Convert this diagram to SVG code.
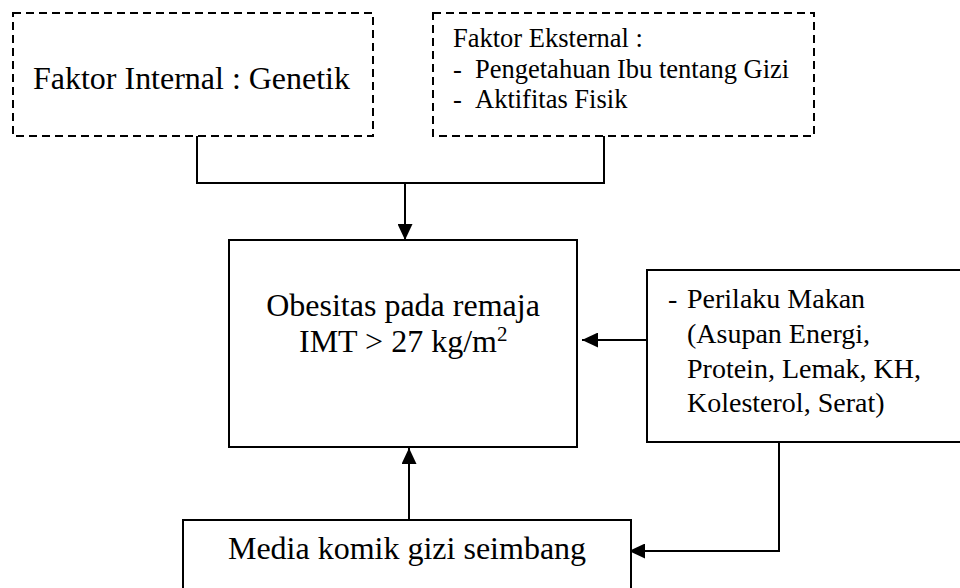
<svg xmlns="http://www.w3.org/2000/svg" width="960" height="588" viewBox="0 0 960 588">
<style>
.box{fill:#fff;stroke:#000;stroke-width:2}
.dash{fill:#fff;stroke:#000;stroke-width:2;stroke-dasharray:8,5}
.t{font-family:"Liberation Serif","Times New Roman",serif;fill:#000}
.conn{fill:none;stroke:#000;stroke-width:2}
</style>
<defs>
<marker id="arr" markerUnits="userSpaceOnUse" markerWidth="16" markerHeight="15" refX="16" refY="7.5" orient="auto">
<path d="M0,0 L16,7.5 L0,15 z" fill="#000"/>
</marker>
</defs>
<g id="connectors">
<path class="conn" d="M197,136 V183 H604 V136"/>
<path class="conn" d="M405,183 V240" marker-end="url(#arr)"/>
<path class="conn" d="M647,340 H582" marker-end="url(#arr)"/>
<path class="conn" d="M779,442 V551 H629" marker-end="url(#arr)"/>
<path class="conn" d="M409,520 V448" marker-end="url(#arr)"/>
</g>
<g id="internal">
<rect class="dash" x="13" y="13" width="360" height="123"/>
<text class="t" x="33" y="89" font-size="32" textLength="317">Faktor Internal : Genetik</text>
</g>
<g id="eksternal">
<rect class="dash" x="433" y="13" width="381" height="123"/>
<text class="t" x="453" y="47" font-size="26.5">Faktor Eksternal :</text>
<text class="t" x="453" y="78" font-size="26.5">-</text>
<text class="t" x="475" y="78" font-size="26.5">Pengetahuan Ibu tentang Gizi</text>
<text class="t" x="453" y="108" font-size="26.5">-</text>
<text class="t" x="475" y="108" font-size="26.5">Aktifitas Fisik</text>
</g>
<g id="obesitas">
<rect class="box" x="229" y="240" width="348" height="207"/>
<text class="t" x="403" y="316" font-size="32" text-anchor="middle">Obesitas pada remaja</text>
<text class="t" x="299" y="352" font-size="32">IMT &gt; 27 kg/m<tspan font-size="21" dy="-11">2</tspan></text>
</g>
<g id="perilaku">
<rect class="box" x="647" y="270" width="330" height="172"/>
<text class="t" x="668" y="308" font-size="28">-</text>
<text class="t" x="687" y="308" font-size="28">Perilaku Makan</text>
<text class="t" x="687" y="343" font-size="28">(Asupan Energi,</text>
<text class="t" x="687" y="378" font-size="28">Protein, Lemak, KH,</text>
<text class="t" x="687" y="412" font-size="28">Kolesterol, Serat)</text>
</g>
<g id="media">
<rect class="box" x="183" y="520" width="448" height="90"/>
<text class="t" x="407" y="559" font-size="32" text-anchor="middle">Media komik gizi seimbang</text>
</g>
</svg>
